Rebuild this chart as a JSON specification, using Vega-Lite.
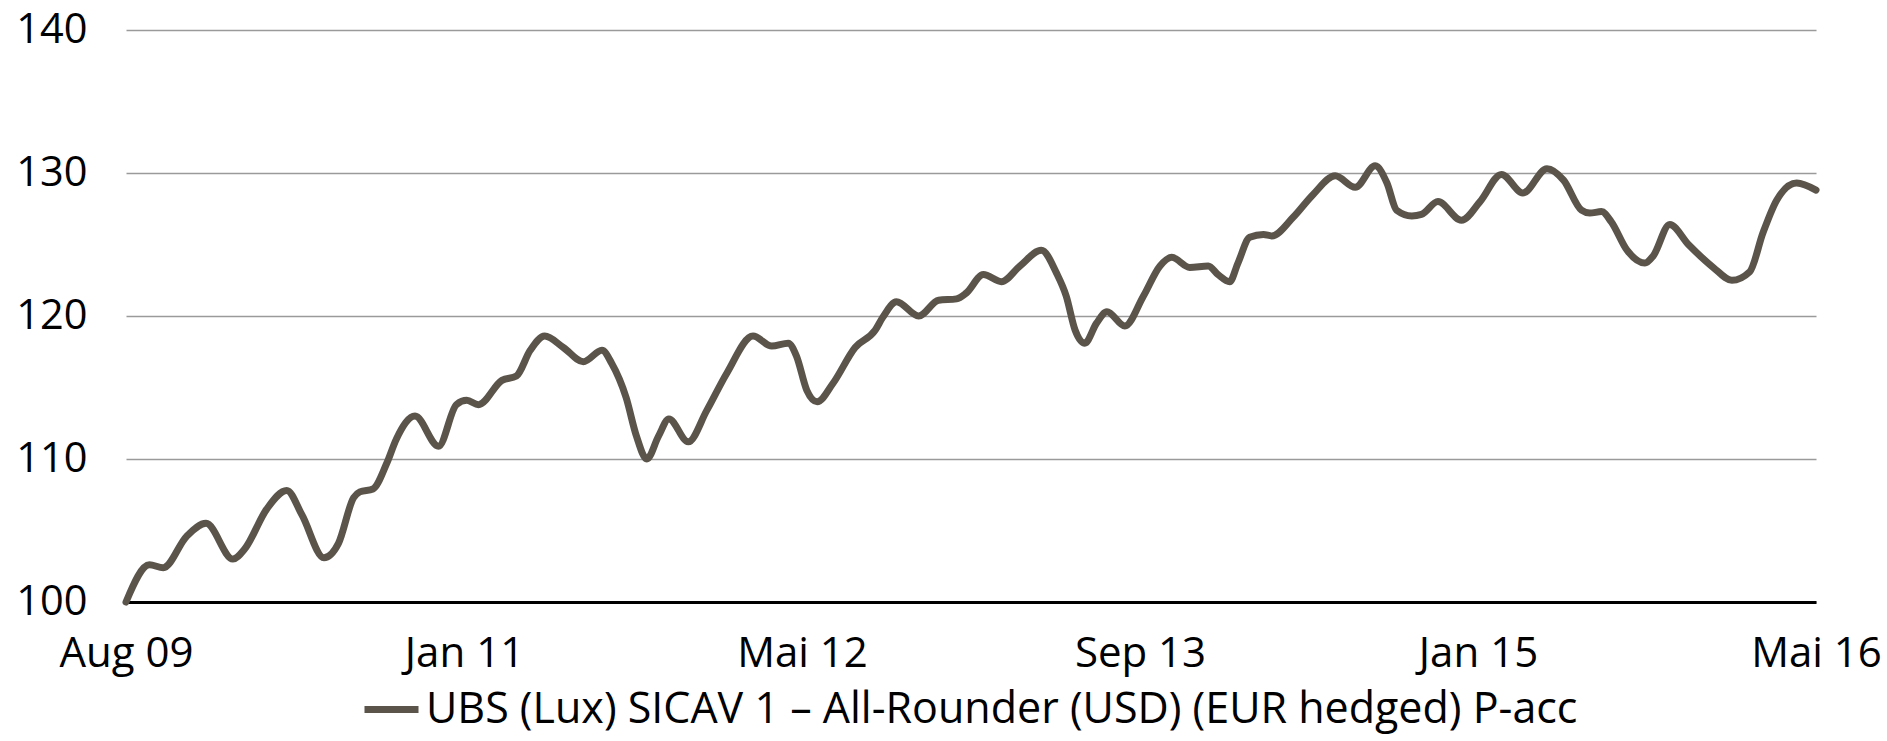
{
  "$schema": "https://vega.github.io/schema/vega-lite/v6.json",
  "autosize": {"type": "none"},
  "width": 1690,
  "height": 572,
  "padding": {"left": 126, "top": 30, "right": 71, "bottom": 139},
  "background": "white",
  "config": {
    "view": {"stroke": null},
    "font": "Open Sans",
    "axis": {"labelFont": "Open Sans", "labelColor": "#000000"},
    "legend": {"labelFont": "Open Sans"}
  },
  "data": {
    "format": {"parse": {"date": "utc:'%Y-%m-%d'"}},
    "values": [
      {"date": "2009-08-31", "value": 100.0},
      {"date": "2009-10-04", "value": 102.6},
      {"date": "2009-10-24", "value": 102.4},
      {"date": "2009-11-27", "value": 104.6},
      {"date": "2009-12-25", "value": 105.5},
      {"date": "2010-02-02", "value": 103.0},
      {"date": "2010-02-19", "value": 103.7},
      {"date": "2010-03-23", "value": 106.5},
      {"date": "2010-04-21", "value": 107.8},
      {"date": "2010-05-13", "value": 106.1},
      {"date": "2010-06-14", "value": 103.1},
      {"date": "2010-07-05", "value": 104.1},
      {"date": "2010-07-27", "value": 107.3},
      {"date": "2010-08-05", "value": 107.7},
      {"date": "2010-08-24", "value": 107.9},
      {"date": "2010-09-13", "value": 109.7},
      {"date": "2010-09-27", "value": 111.4},
      {"date": "2010-10-24", "value": 113.0},
      {"date": "2010-11-27", "value": 110.9},
      {"date": "2010-12-23", "value": 113.8},
      {"date": "2011-01-07", "value": 114.1},
      {"date": "2011-01-24", "value": 113.8},
      {"date": "2011-02-27", "value": 115.5},
      {"date": "2011-03-20", "value": 115.8},
      {"date": "2011-04-09", "value": 117.6},
      {"date": "2011-04-30", "value": 118.6},
      {"date": "2011-05-27", "value": 117.8},
      {"date": "2011-06-25", "value": 116.8},
      {"date": "2011-07-22", "value": 117.6},
      {"date": "2011-08-05", "value": 116.7},
      {"date": "2011-08-26", "value": 114.3},
      {"date": "2011-09-10", "value": 111.6},
      {"date": "2011-09-25", "value": 110.0},
      {"date": "2011-10-12", "value": 111.6},
      {"date": "2011-10-27", "value": 112.8},
      {"date": "2011-11-24", "value": 111.2},
      {"date": "2011-12-21", "value": 113.4},
      {"date": "2012-01-19", "value": 116.0},
      {"date": "2012-02-26", "value": 118.6},
      {"date": "2012-03-24", "value": 117.9},
      {"date": "2012-04-17", "value": 118.1},
      {"date": "2012-04-29", "value": 117.2},
      {"date": "2012-05-14", "value": 114.8},
      {"date": "2012-05-29", "value": 114.0},
      {"date": "2012-06-21", "value": 115.3},
      {"date": "2012-07-23", "value": 117.8},
      {"date": "2012-08-21", "value": 119.0},
      {"date": "2012-09-01", "value": 119.9},
      {"date": "2012-09-21", "value": 121.0},
      {"date": "2012-10-23", "value": 120.0},
      {"date": "2012-11-21", "value": 121.1},
      {"date": "2012-12-17", "value": 121.2},
      {"date": "2012-12-31", "value": 121.6},
      {"date": "2013-01-25", "value": 122.9},
      {"date": "2013-02-20", "value": 122.4},
      {"date": "2013-03-19", "value": 123.5},
      {"date": "2013-04-19", "value": 124.6},
      {"date": "2013-05-11", "value": 123.0},
      {"date": "2013-05-25", "value": 121.4},
      {"date": "2013-06-07", "value": 119.0},
      {"date": "2013-06-21", "value": 118.1},
      {"date": "2013-07-08", "value": 119.5},
      {"date": "2013-07-23", "value": 120.3},
      {"date": "2013-08-18", "value": 119.3},
      {"date": "2013-09-14", "value": 121.4},
      {"date": "2013-10-08", "value": 123.5},
      {"date": "2013-10-25", "value": 124.1},
      {"date": "2013-11-20", "value": 123.4},
      {"date": "2013-12-17", "value": 123.5},
      {"date": "2013-12-31", "value": 122.9},
      {"date": "2014-01-17", "value": 122.4},
      {"date": "2014-01-29", "value": 123.7},
      {"date": "2014-02-15", "value": 125.5},
      {"date": "2014-03-07", "value": 125.7},
      {"date": "2014-03-19", "value": 125.6},
      {"date": "2014-04-19", "value": 126.9},
      {"date": "2014-05-18", "value": 128.5},
      {"date": "2014-06-19", "value": 129.8},
      {"date": "2014-07-18", "value": 129.0},
      {"date": "2014-08-16", "value": 130.5},
      {"date": "2014-09-02", "value": 129.3},
      {"date": "2014-09-16", "value": 127.4},
      {"date": "2014-10-08", "value": 127.0},
      {"date": "2014-10-22", "value": 127.1},
      {"date": "2014-11-15", "value": 128.0},
      {"date": "2014-12-19", "value": 126.7},
      {"date": "2015-01-15", "value": 128.0},
      {"date": "2015-02-15", "value": 129.9},
      {"date": "2015-03-18", "value": 128.6},
      {"date": "2015-04-22", "value": 130.3},
      {"date": "2015-05-16", "value": 129.5},
      {"date": "2015-06-11", "value": 127.4},
      {"date": "2015-06-23", "value": 127.2},
      {"date": "2015-07-10", "value": 127.3},
      {"date": "2015-07-24", "value": 126.6},
      {"date": "2015-08-16", "value": 124.6},
      {"date": "2015-09-11", "value": 123.7},
      {"date": "2015-09-23", "value": 124.2},
      {"date": "2015-10-17", "value": 126.4},
      {"date": "2015-11-13", "value": 125.0},
      {"date": "2015-12-19", "value": 123.4},
      {"date": "2016-01-15", "value": 122.5},
      {"date": "2016-02-10", "value": 123.1},
      {"date": "2016-02-29", "value": 125.8},
      {"date": "2016-03-20", "value": 128.1},
      {"date": "2016-04-18", "value": 129.3},
      {"date": "2016-05-16", "value": 128.8}
    ]
  },
  "mark": {"type": "line", "interpolate": "monotone", "strokeWidth": 7, "strokeCap": "round", "strokeJoin": "round"},
  "encoding": {
    "x": {
      "field": "date",
      "type": "temporal",
      "scale": {
        "type": "utc",
        "domain": [
          {"year": 2009, "month": 8, "date": 31, "utc": true},
          {"year": 2016, "month": 5, "date": 16, "utc": true}
        ]
      },
      "axis": {
        "title": null,
        "values": [
          {"year": 2009, "month": 8, "date": 31, "utc": true},
          {"year": 2011, "month": 1, "date": 3, "utc": true},
          {"year": 2012, "month": 5, "date": 7, "utc": true},
          {"year": 2013, "month": 9, "date": 9, "utc": true},
          {"year": 2015, "month": 1, "date": 12, "utc": true},
          {"year": 2016, "month": 5, "date": 16, "utc": true}
        ],
        "labelExpr": "replace(utcFormat(datum.value, '%b %y'), 'May', 'Mai')",
        "labelFontSize": 42,
        "labelPadding": 31,
        "labelFlush": false,
        "labelOverlap": false,
        "labelBound": false,
        "ticks": false,
        "grid": false,
        "domain": true,
        "domainColor": "#000000",
        "domainWidth": 3
      }
    },
    "y": {
      "field": "value",
      "type": "quantitative",
      "scale": {"domain": [100, 140], "nice": false, "zero": false},
      "axis": {
        "title": null,
        "values": [100, 110, 120, 130, 140],
        "labelFontSize": 41.5,
        "labelPadding": 39,
        "ticks": false,
        "domain": false,
        "grid": true,
        "gridColor": "#9a9a9a",
        "gridWidth": 1.5
      }
    },
    "color": {
      "datum": "UBS (Lux) SICAV 1 – All-Rounder (USD) (EUR hedged) P-acc",
      "type": "nominal",
      "scale": {"range": ["#5a544b"]},
      "legend": {
        "title": null,
        "orient": "none",
        "legendX": 235,
        "legendY": 649,
        "direction": "horizontal",
        "symbolType": "stroke",
        "symbolStrokeWidth": 7,
        "symbolSize": 2916,
        "labelFontSize": 43,
        "labelColor": "#000000",
        "labelLimit": 0,
        "labelOffset": 4,
        "padding": 0
      }
    }
  }
}
